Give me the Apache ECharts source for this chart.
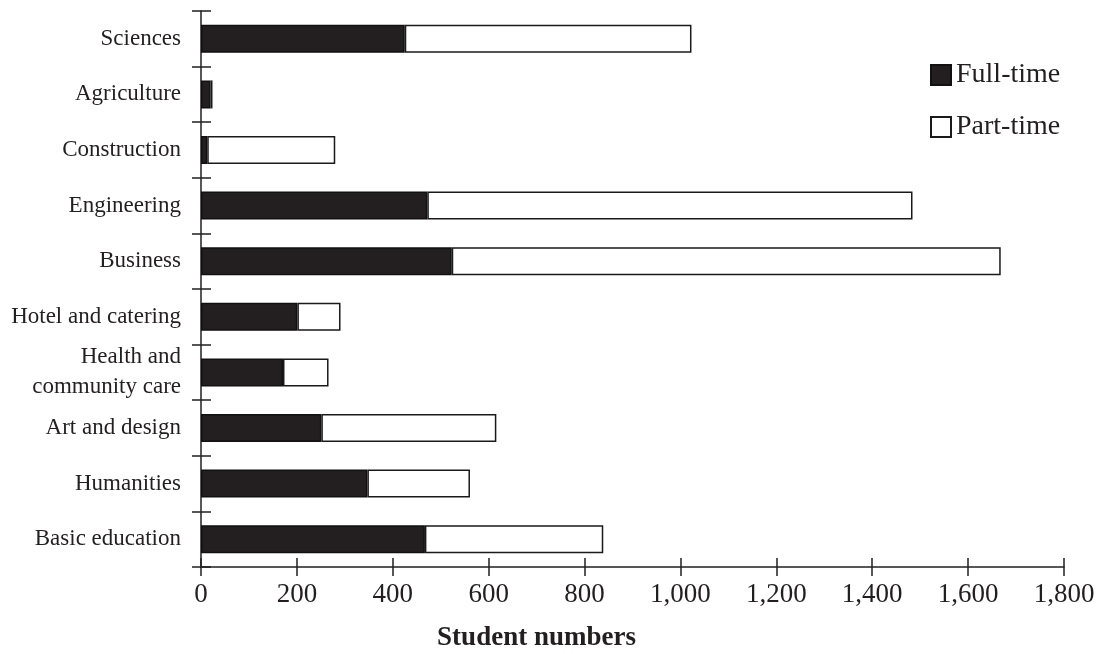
<!DOCTYPE html>
<html>
<head>
<meta charset="utf-8">
<script src="https://cdn.jsdelivr.net/npm/echarts@6/dist/echarts.min.js"></script>
<style>
html,body{margin:0;padding:0;background:#fff;}
#chart{width:1112px;height:654px;}
</style>
</head>
<body>
<div id="chart"></div>
<script>
const categories = ['Sciences', 'Agriculture', 'Construction', 'Engineering', 'Business',
  'Hotel and catering', 'Health and\ncommunity care', 'Art and design', 'Humanities', 'Basic education'];
const fullTime = [425, 20, 13, 472, 523, 201, 171, 251, 347, 467];
const partTime = [598, 4, 267, 1012, 1145, 90, 95, 365, 214, 372];
const xTicks = { min: 0, max: 1800, interval: 200 };

const ink = '#231f20';
const serif = 'Liberation Serif';
const chart = echarts.init(document.getElementById('chart'), null, { renderer: 'canvas' });
chart.setOption({
  animation: false,
  backgroundColor: '#fff',
  grid: { left: 201, right: 48, top: 11, bottom: 87, containLabel: false, outerBoundsMode: 'none' },
  legend: {
    orient: 'vertical',
    left: 925,
    top: 56,
    itemWidth: 20,
    itemHeight: 20,
    itemGap: 24,
    icon: 'rect',
    textStyle: { fontFamily: serif, fontSize: 28, color: ink },
    data: ['Full-time', 'Part-time']
  },
  xAxis: [{
    type: 'value',
    position: 'bottom',
    min: xTicks.min, max: xTicks.max, interval: xTicks.interval,
    name: 'Student numbers',
    nameLocation: 'middle',
    nameGap: 58,
    nameTextStyle: { fontFamily: serif, fontSize: 27, fontWeight: 'bold', color: ink, padding: [0, 192, 0, 0] },
    axisLine: { show: true, lineStyle: { color: ink, width: 1.5 } },
    axisTick: { show: true, inside: false, length: 9, lineStyle: { color: ink, width: 1.5 } },
    axisLabel: {
      fontFamily: serif, fontSize: 27, color: ink, margin: 14,
      formatter: v => v.toLocaleString('en-US')
    },
    splitLine: { show: false }
  }, {
    type: 'value',
    position: 'bottom',
    min: xTicks.min, max: xTicks.max, interval: xTicks.interval,
    axisLine: { show: false },
    axisTick: { show: true, inside: true, length: 9, lineStyle: { color: ink, width: 1.5 } },
    axisLabel: { show: false },
    splitLine: { show: false }
  }],
  yAxis: [{
    type: 'category',
    inverse: true,
    data: categories,
    position: 'left',
    axisLine: { show: true, lineStyle: { color: ink, width: 1.5 } },
    axisTick: { show: true, inside: false, length: 9, lineStyle: { color: ink, width: 1.5 } },
    axisLabel: { fontFamily: serif, fontSize: 23, color: ink, margin: 20, lineHeight: 30, padding: [6, 0, 0, 0] }
  }, {
    type: 'category',
    inverse: true,
    data: categories,
    position: 'left',
    axisLine: { show: false },
    axisTick: { show: true, inside: true, length: 10, lineStyle: { color: ink, width: 1.5 } },
    axisLabel: { show: false }
  }],
  series: [{
    name: 'Full-time',
    type: 'bar',
    stack: 'total',
    xAxisIndex: 0, yAxisIndex: 0,
    barWidth: 28,
    data: fullTime,
    itemStyle: { color: ink, borderColor: '#111', borderWidth: 1.5 }
  }, {
    name: 'Part-time',
    type: 'bar',
    stack: 'total',
    xAxisIndex: 0, yAxisIndex: 0,
    barWidth: 28,
    data: partTime,
    itemStyle: { color: '#fff', borderColor: '#1a1a1a', borderWidth: 1.5 }
  }]
});
</script>
</body>
</html>
